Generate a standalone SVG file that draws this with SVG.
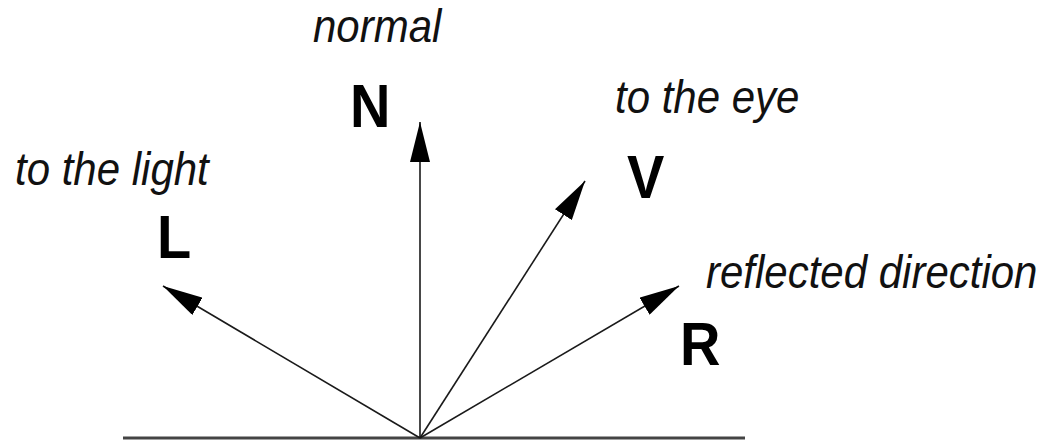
<svg xmlns="http://www.w3.org/2000/svg" width="1045" height="442" viewBox="0 0 1045 442">
  <style>
    .lbl { font-family: "Liberation Sans", Arial, sans-serif; font-style: italic; font-size: 42px; fill: #111; }
    .vec { font-family: "Liberation Sans", Arial, sans-serif; font-weight: bold; font-size: 56px; fill: #000; }
    .arrow { stroke: #1a1a1a; stroke-width: 1.6; fill: none; marker-end: url(#head); }
    .ground { stroke: #444; stroke-width: 3; }
  </style>
  <defs>
    <marker id="head" markerUnits="userSpaceOnUse" viewBox="0 0 40 20" refX="40" refY="10" markerWidth="40" markerHeight="20" orient="auto">
      <path d="M0,0 L40,10 L0,20 z" fill="#000"/>
    </marker>
  </defs>
  <rect width="1045" height="442" fill="#fff"/>
  <g id="connectors">
    <line class="ground" x1="123" y1="438" x2="745" y2="438"/>
    <line class="arrow" x1="420" y1="438" x2="163" y2="286"/>
    <line class="arrow" x1="420" y1="438" x2="420" y2="122"/>
    <line class="arrow" x1="420" y1="438" x2="585" y2="181"/>
    <line class="arrow" x1="420" y1="438" x2="679" y2="286"/>
  </g>
  <g id="node-N">
    <text class="lbl" transform="translate(313,42) scale(1,1.08)">normal</text>
    <text class="vec" transform="translate(350,127) scale(1,1.1)">N</text>
  </g>
  <g id="node-L">
    <text class="lbl" transform="translate(15,185) scale(1,1.08)">to the light</text>
    <text class="vec" transform="translate(157,258) scale(1,1.1)">L</text>
  </g>
  <g id="node-V">
    <text class="lbl" transform="translate(615,113) scale(1,1.08)">to the eye</text>
    <text class="vec" transform="translate(627,198) scale(1,1.1)">V</text>
  </g>
  <g id="node-R">
    <text class="lbl" transform="translate(706,288) scale(1,1.08)">reflected direction</text>
    <text class="vec" transform="translate(680,365) scale(1,1.1)">R</text>
  </g>
</svg>
